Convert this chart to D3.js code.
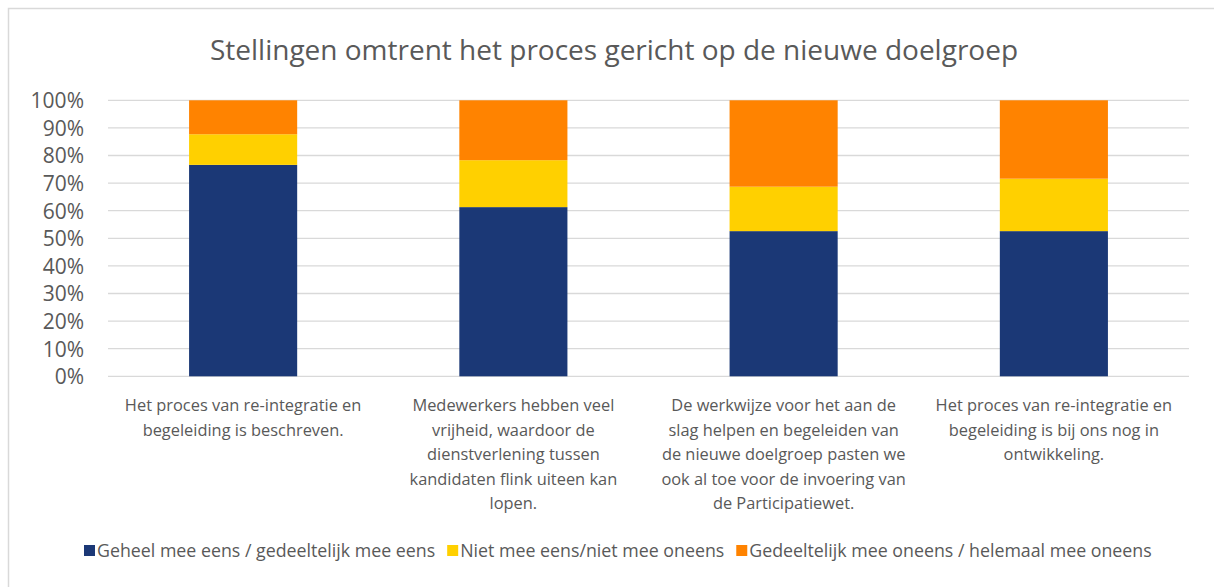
<!DOCTYPE html>
<html>
<head>
<meta charset="utf-8">
<script src="https://cdn.jsdelivr.net/npm/d3@7"></script>
<style>
  html, body { margin: 0; padding: 0; background: #fff; }
  svg { display: block; font-family: "Open Sans", "Noto Sans", sans-serif; }
</style>
</head>
<body>
<svg id="chart" width="1214" height="587"></svg>
<script>
const title = "Stellingen omtrent het proces gericht op de nieuwe doelgroep";
const categories = [
  ["Het proces van re-integratie en", "begeleiding is beschreven."],
  ["Medewerkers hebben veel", "vrijheid, waardoor de", "dienstverlening tussen", "kandidaten flink uiteen kan", "lopen."],
  ["De werkwijze voor het aan de", "slag helpen en begeleiden van", "de nieuwe doelgroep pasten we", "ook al toe voor de invoering van", "de Participatiewet."],
  ["Het proces van re-integratie en", "begeleiding is bij ons nog in", "ontwikkeling."]
];
const seriesNames = [
  "Geheel mee eens / gedeeltelijk mee eens",
  "Niet mee eens/niet mee oneens",
  "Gedeeltelijk mee oneens / helemaal mee oneens"
];
const agree = [76.6, 61.3, 52.6, 52.6];
const neutral = [11.1, 17.0, 16.1, 19.0];
const disagree = [12.3, 21.7, 31.3, 28.4];
const colors = ["#1b3876", "#ffd000", "#ff8300"];
const yTicks = [0, 10, 20, 30, 40, 50, 60, 70, 80, 90, 100];

const svg = d3.select("#chart");
const textColor = "#595959";

// outer border
svg.append("rect").attr("x", 8.5).attr("y", 8.5).attr("width", 1220).attr("height", 600)
  .attr("fill", "none").attr("stroke", "#d9d9d9").attr("stroke-width", 1.5);

const plotLeft = 108, plotRight = 1189, plotTop = 100.3, plotBottom = 376.3;

const x = d3.scaleBand().domain(d3.range(categories.length)).range([plotLeft, plotRight])
  .paddingInner(0.6).paddingOuter(0.3);
const y = d3.scaleLinear().domain([0, 100]).range([plotBottom, plotTop]);

// gridlines
svg.append("g").selectAll("line").data(yTicks).join("line")
  .attr("x1", plotLeft).attr("x2", plotRight)
  .attr("y1", d => y(d)).attr("y2", d => y(d))
  .attr("stroke", "#d9d9d9").attr("stroke-width", 1.3);

// y axis labels
const yAxis = d3.axisLeft(y).tickValues(yTicks).tickFormat(d => d + "%").tickSize(0).tickPadding(0);
const gy = svg.append("g").attr("transform", `translate(84,0)`).call(yAxis);
gy.select(".domain").remove();
gy.selectAll("text").attr("fill", textColor).style("font-size", "21px")
  .style("font-family", '"Open Sans", sans-serif').attr("dy", "0.35em");

// stacked bars
const table = categories.map((c, i) => ({ i, a: agree[i], n: neutral[i], d: disagree[i] }));
const stack = d3.stack().keys(["a", "n", "d"]);
const layers = stack(table);
svg.append("g").selectAll("g").data(layers).join("g")
  .attr("fill", (d, k) => colors[k])
  .selectAll("rect").data(d => d).join("rect")
  .attr("x", d => x(d.data.i))
  .attr("width", x.bandwidth())
  .attr("y", d => y(d[1]))
  .attr("height", d => y(d[0]) - y(d[1]));

// category labels
const xl = svg.append("g");
categories.forEach((lines, i) => {
  const t = xl.append("text").attr("text-anchor", "middle")
    .attr("fill", textColor).style("font-size", "16.4px");
  lines.forEach((ln, j) => {
    t.append("tspan").attr("x", x(i) + x.bandwidth() / 2).attr("y", 411 + j * 24.6).text(ln);
  });
});

// title
svg.append("text").attr("x", 614).attr("y", 60).attr("text-anchor", "middle")
  .attr("fill", textColor).style("font-size", "28px").text(title);

// legend
const leg = svg.append("g");
let lx = 84;
seriesNames.forEach((name, k) => {
  leg.append("rect").attr("x", lx).attr("y", 545).attr("width", 11).attr("height", 11).attr("fill", colors[k]);
  const t = leg.append("text").attr("x", lx + 13).attr("y", 557)
    .attr("fill", textColor).style("font-size", "17.8px").text(name);
  lx += 13 + t.node().getComputedTextLength() + 12;
});
</script>
</body>
</html>
